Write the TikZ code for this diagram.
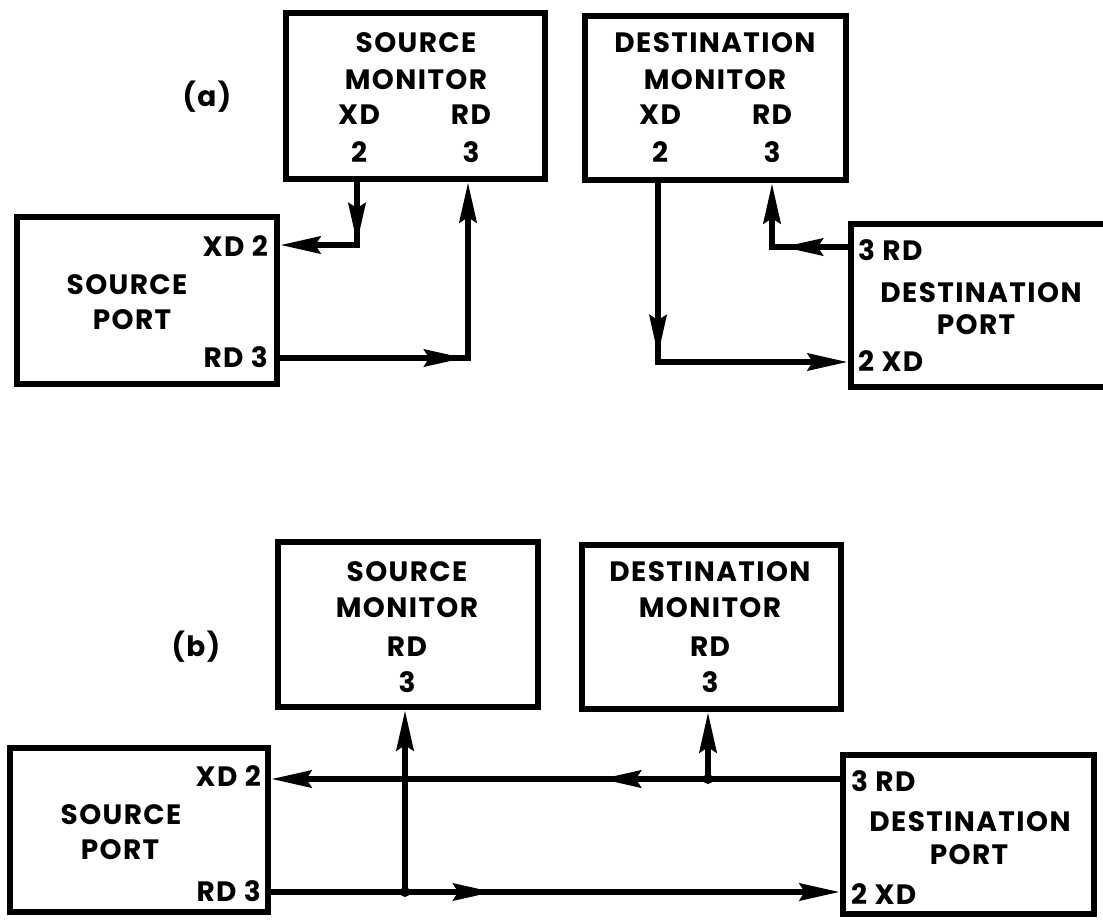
\documentclass[tikz,border=0pt]{standalone}
\usepackage{fontspec}
\setmainfont{Poppins}[LetterSpace=5]
\usetikzlibrary{arrows.meta,decorations.markings}
\begin{document}
\begin{tikzpicture}[x=1pt,y=-1pt,
  box/.style={draw, line width=6.5pt, inner sep=0pt},
  txt/.style={font=\bfseries\fontsize{28}{30}\selectfont, inner sep=0pt, text height=19.6pt, text depth=0pt},
  conn/.style={line width=6pt},
  tipx/.tip={Stealth[length=40pt,width=17pt,inset=5pt]},
  midarr/.style={postaction={decorate}, decoration={markings, mark=at position #1 with {\arrow{tipx}}}},
  dotj/.style={circle, fill, inner sep=0pt, minimum size=10pt}
]
\clip (0,0) rectangle (1103,919);
\fill[white] (0,0) rectangle (1103,919);

% ---------- panel (a) ----------
\node[txt] (la) at (207,97) {(a)};
\node[box, minimum width=259pt, minimum height=166pt] (smA) at (415.5,96) {};
\node[box, minimum width=261pt, minimum height=164pt] (dmA) at (715.5,98) {};
\node[box, minimum width=260pt, minimum height=167pt] (spA) at (147,300.5) {};
\node[box, minimum width=264pt, minimum height=163pt] (dpA) at (983,305.5) {};

\node[txt] (smAt1) at (416,43) {SOURCE};
\node[txt] (smAt2) at (416,80) {MONITOR};
\node[txt] (smAt3) at (359,115) {XD};
\node[txt] (smAt4) at (471,115) {RD};
\node[txt] (smAt5) at (359,153) {2};
\node[txt] (smAt6) at (471,153) {3};

\node[txt] (dmAt1) at (715,43) {DESTINATION};
\node[txt] (dmAt2) at (715,80) {MONITOR};
\node[txt] (dmAt3) at (660,115) {XD};
\node[txt] (dmAt4) at (772,115) {RD};
\node[txt] (dmAt5) at (660,153) {2};
\node[txt] (dmAt6) at (772,153) {3};

\node[txt, anchor=east] (spAt1) at (268,247) {XD 2};
\node[txt] (spAt2) at (127,285) {SOURCE};
\node[txt] (spAt3) at (132,320) {PORT};
\node[txt, anchor=east] (spAt4) at (268,358) {RD 3};

\node[txt, anchor=west] (dpAt1) at (858,251) {3 RD};
\node[txt] (dpAt2) at (981,293) {DESTINATION};
\node[txt] (dpAt3) at (976,325) {PORT};
\node[txt, anchor=west] (dpAt4) at (858,362) {2 XD};

\coordinate (cA1) at (357,245);
\coordinate (cA2) at (468,358);
\coordinate (cA3) at (658,362);
\coordinate (cA4) at (772,247);

\draw[conn, -{tipx}, midarr=61pt] (smA.south -| cA1) -- (cA1) -- (spA.east |- cA1);
\draw[conn, -{tipx}, midarr=184pt] (spA.east |- cA2) -- (cA2) -- (smA.south -| cA2);
\draw[conn, -{tipx}, midarr=172pt] (dmA.south -| cA3) -- (cA3) -- (dpA.west |- cA3);
\draw[conn, -{tipx}, midarr=65pt] (dpA.west |- cA4) -- (cA4) -- (dmA.south -| cA4);

% ---------- panel (b) ----------
\node[txt] (lb) at (196,647) {(b)};
\node[box, minimum width=260pt, minimum height=165pt] (smB) at (408,624.5) {};
\node[box, minimum width=259pt, minimum height=164pt] (dmB) at (711.5,627) {};
\node[box, minimum width=258pt, minimum height=164pt] (spB) at (139,830) {};
\node[box, minimum width=251pt, minimum height=159pt] (dpB) at (968.5,834.5) {};

\node[txt] (smBt1) at (407,572) {SOURCE};
\node[txt] (smBt2) at (407,608) {MONITOR};
\node[txt] (smBt3) at (407,647) {RD};
\node[txt] (smBt4) at (407,683) {3};

\node[txt] (dmBt1) at (710,572) {DESTINATION};
\node[txt] (dmBt2) at (710,608) {MONITOR};
\node[txt] (dmBt3) at (710,647) {RD};
\node[txt] (dmBt4) at (710,683) {3};

\node[txt, anchor=east] (spBt1) at (261,777) {XD 2};
\node[txt] (spBt2) at (121,815) {SOURCE};
\node[txt] (spBt3) at (120,850) {PORT};
\node[txt, anchor=east] (spBt4) at (261,892) {RD 3};

\node[txt, anchor=west] (dpBt1) at (851,782) {3 RD};
\node[txt] (dpBt2) at (970,822) {DESTINATION};
\node[txt] (dpBt3) at (969,855) {PORT};
\node[txt, anchor=west] (dpBt4) at (851,895) {2 XD};

\node[dotj] (jB1) at (405,892) {};
\node[dotj] (jB2) at (708,779) {};

\draw[conn, -{tipx}, midarr=239pt] (dpB.west |- jB2) -- (spB.east |- jB2);
\draw[conn, -{tipx}, midarr=222pt] (spB.east |- jB1) -- (dpB.west |- jB1);
\draw[conn, -{tipx}] (jB1.center) -- (smB.south -| jB1);
\draw[conn, -{tipx}] (jB2.center) -- (dmB.south -| jB2);
\end{tikzpicture}
\end{document}
